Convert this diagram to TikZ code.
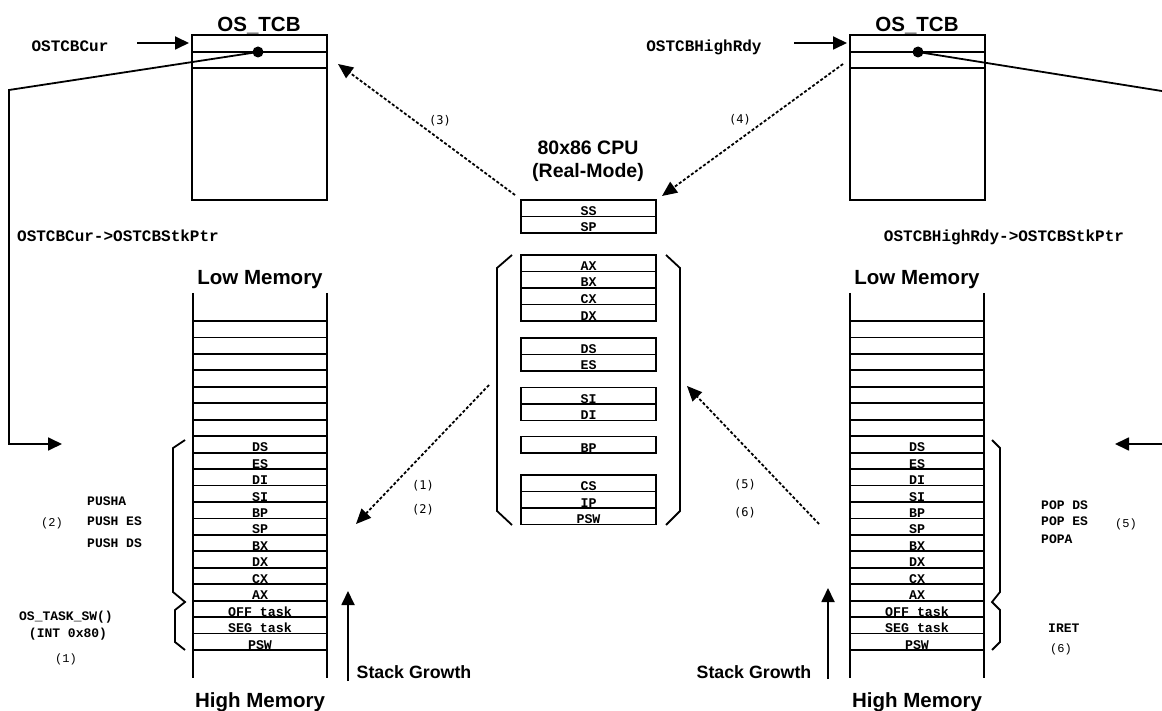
\documentclass[tikz,border=0pt]{standalone}
\usepackage{fontspec}
\usetikzlibrary{arrows.meta}
\newfontfamily\headfont{Liberation Sans}
\newfontfamily\codefont{Liberation Mono}
\newfontfamily\numfont{DejaVu Sans Mono}

\tikzset{
    heading/.style={font=\headfont\bfseries\fontsize{20.5}{22}\selectfont, inner sep=0pt, anchor=base},
    subhead/.style={font=\headfont\bfseries\fontsize{19.5}{21}\selectfont, inner sep=0pt, anchor=base},
    growth/.style={font=\headfont\bfseries\fontsize{17.8}{20}\selectfont, inner sep=0pt, anchor=base},
    ptrname/.style={font=\codefont\bfseries\fontsize{16}{18}\selectfont, inner sep=0pt, anchor=base},
    instr/.style={font=\codefont\bfseries\fontsize{13}{15}\selectfont, inner sep=0pt, anchor=base west},
    reg/.style={font=\codefont\bfseries\fontsize{13.3}{14}\selectfont, inner sep=0pt, anchor=base},
    sidenum/.style={font=\codefont\fontsize{12}{13}\selectfont, inner sep=0pt},
    stepnum/.style={font=\numfont\fontsize{12}{13}\selectfont, inner sep=0pt},
    box/.style={line width=1.8pt},
    ptr/.style={line width=1.8pt, -{Triangle[length=14pt,width=13pt]}},
    link/.style={line width=1.8pt, dash pattern=on 3pt off 2pt, -{Triangle[length=15pt,width=13pt]}},
}

\begin{document}
\begin{tikzpicture}[x=1pt,y=-1pt]
    \useasboundingbox (0,0) rectangle (1162,711);

    % Task control blocks
    \foreach \bx/\nm in {192/L,850/R} {
        \draw[box] (\bx,35) rectangle (\bx+135,200);
        \draw[box] (\bx,52) -- ++(135,0);
        \draw[box] (\bx,68) -- ++(135,0);
        \node[heading] (tcb\nm) at (\bx+67,32) {OS\_TCB};
    }
    \coordinate (dotL) at (258,52);
    \coordinate (dotR) at (918,52);
    \fill (dotL) circle[radius=5.5pt];
    \fill (dotR) circle[radius=5.5pt];

    \node[ptrname] (cur) at (70,52) {OSTCBCur};
    \node[ptrname] (high) at (704,52) {OSTCBHighRdy};
    \coordinate (curA) at (137,43);  \coordinate (curB) at (189,43);
    \coordinate (highA) at (794,43); \coordinate (highB) at (847,43);
    \draw[ptr] (curA) -- (curB);
    \draw[ptr] (highA) -- (highB);

    \node[ptrname] (stkptrL) at (118,242) {OSTCBCur->OSTCBStkPtr};
    \node[ptrname] (stkptrR) at (1004,242) {OSTCBHighRdy->OSTCBStkPtr};

    % Stacks
    \foreach \sx/\nm in {193/L,850/R} {
        \draw[box] (\sx,293) -- (\sx,678);
        \draw[box] (\sx+134,293) -- (\sx+134,678);
        \foreach \k in {0,...,20}
            \draw[box] (\sx,321+16.45*\k) -- ++(134,0);
        \foreach \lbl [count=\i from 7] in {DS,ES,DI,SI,BP,SP,BX,DX,CX,AX,OFF task,SEG task,PSW}
            \node[reg] (stk\nm-\i) at (\sx+67,321+16.45*\i+15.5) {\lbl};
        \node[heading] (low\nm) at (\sx+67,285) {Low Memory};
        \node[heading] (highmem\nm) at (\sx+67,707) {High Memory};
    }

    % Pointers to the stacks
    \coordinate (bendL) at (9,90);    \coordinate (inL) at (62,444);
    \coordinate (bendR) at (1168,92); \coordinate (inR) at (1115,444);
    \draw[ptr] (dotL) -- (bendL) |- (inL);
    \draw[ptr] (dotR) -- (bendR) |- (inR);

    % Braces beside the stacks
    \draw[box] (185,440) -- (173,448) -- (173,592) -- (185,602)
               -- (175,610) -- (175,642) -- (185,650);
    \draw[box] (992,440) -- (1000,448) -- (1000,592) -- (992,602)
               -- (1000,610) -- (1000,642) -- (992,650);

    \node[instr] (pusha) at (87,505) {PUSHA};
    \node[instr] (pushes) at (87,525) {PUSH ES};
    \node[instr] (pushds) at (87,547) {PUSH DS};
    \node[sidenum] (n2L) at (52,523) {(2)};
    \node[instr,anchor=base] (tasksw) at (66,620) {OS\_TASK\_SW()};
    \node[instr,anchor=base] (int80) at (68,637) {(INT 0x80)};
    \node[sidenum] (n1L) at (66,659) {(1)};

    \node[instr] (popds) at (1041,509) {POP DS};
    \node[instr] (popes) at (1041,525) {POP ES};
    \node[instr] (popa) at (1041,543) {POPA};
    \node[sidenum] (n5R) at (1126,524) {(5)};
    \node[instr] (iret) at (1048,632) {IRET};
    \node[sidenum] (n6R) at (1061,649) {(6)};

    % Stack growth
    \coordinate (growL0) at (348,681); \coordinate (growL1) at (348,591);
    \coordinate (growR0) at (828,679); \coordinate (growR1) at (828,588);
    \draw[ptr] (growL0) -- (growL1);
    \draw[ptr] (growR0) -- (growR1);
    \node[growth] (grL) at (414,678) {Stack Growth};
    \node[growth] (grR) at (754,678) {Stack Growth};

    % CPU registers
    \node[subhead] (cpu) at (588,155) {80x86 CPU};
    \node[subhead] (mode) at (588,178) {(Real-Mode)};
    \foreach \t/\names in {200/{SS,SP},255/{AX,BX,CX,DX},338/{DS,ES},387.5/{SI,DI},436.5/{BP},475/{CS,IP,PSW}} {
        \foreach \lbl [count=\i from 0] in \names {
            \draw[box] (521,\t+16.5*\i) rectangle ++(135,16.5);
            \node[reg] (reg\lbl) at (588.5,\t+16.5*\i+15.5) {\lbl};
        }
    }
    \draw[box] (512,255) -- (497,268) -- (497,511) -- (512,525);
    \draw[box] (666,255) -- (680,268) -- (680,511) -- (666,525);

    % Context switch steps
    \coordinate (s3a) at (515,195); \coordinate (s3b) at (338,64);
    \coordinate (s4a) at (843,64);  \coordinate (s4b) at (662,196);
    \coordinate (s1a) at (489,385); \coordinate (s1b) at (356,524);
    \coordinate (s5a) at (819,524); \coordinate (s5b) at (687,386);
    \draw[link] (s3a) -- (s3b);
    \draw[link] (s4a) -- (s4b);
    \draw[link] (s1a) -- (s1b);
    \draw[link] (s5a) -- (s5b);
    \node[stepnum] (n3) at (440,121) {(3)};
    \node[stepnum] (n4) at (740,120) {(4)};
    \node[stepnum] (n1) at (423,486) {(1)};
    \node[stepnum] (n2) at (423,510) {(2)};
    \node[stepnum] (n5) at (745,485) {(5)};
    \node[stepnum] (n6) at (745,513) {(6)};
\end{tikzpicture}
\end{document}
